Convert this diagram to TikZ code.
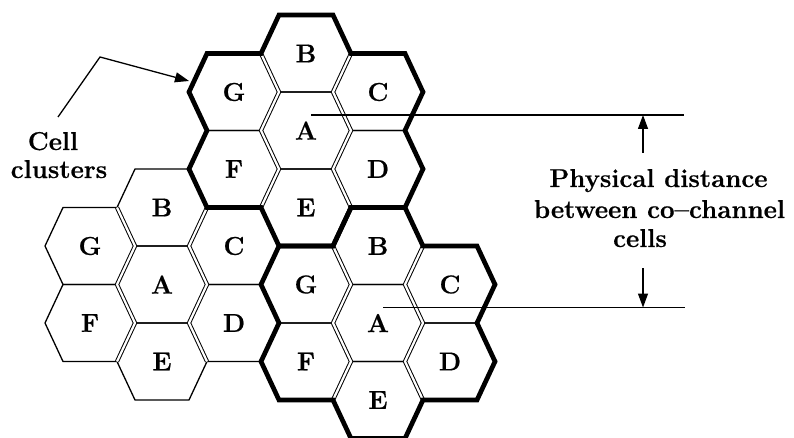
\documentclass[tikz,border=0pt]{standalone}
\usepackage{fontspec}
\newfontfamily\lmheavy{Latin Modern Roman}[FakeBold=0.6,Ligatures=TeX]
\usetikzlibrary{arrows.meta}
\begin{document}
\begin{tikzpicture}[x=1pt,y=-1pt,
  hexthin/.style={line width=1.3pt},
  chan/.style={double, line width=1.0pt, double distance=2.2pt},
  clusterline/.style={line width=4.7pt, line join=miter},
  lab/.style={font=\fontsize{25.8}{30}\selectfont\lmheavy\bfseries, inner sep=0pt},
  txt/.style={font=\fontsize{25.8}{30}\selectfont\lmheavy\bfseries, inner sep=0pt, anchor=base},
  dimline/.style={line width=1.3pt},
  arr/.style={line width=1.3pt, -{Triangle[length=14pt,width=10pt]}}]
\useasboundingbox (0,0) rectangle (794,438);
% cell centres
\coordinate (tA) at (306,130.5);
\coordinate (tB) at (306,53.5);
\coordinate (tE) at (306,207.5);
\coordinate (tG) at (234,92);
\coordinate (tF) at (234,169);
\coordinate (tC) at (378,92);
\coordinate (tD) at (378,169);
\coordinate (lA) at (162,284.5);
\coordinate (lB) at (162,207.5);
\coordinate (lE) at (162,361.5);
\coordinate (lG) at (90,246);
\coordinate (lF) at (90,323);
\coordinate (lC) at (234,246);
\coordinate (lD) at (234,323);
\coordinate (rA) at (378,323);
\coordinate (rB) at (378,246);
\coordinate (rE) at (378,400);
\coordinate (rG) at (306,284.5);
\coordinate (rF) at (306,361.5);
\coordinate (rC) at (450,284.5);
\coordinate (rD) at (450,361.5);
% thin hexagons
\foreach \c in {tA,tB,tC,tD,tE,tF,tG,lA,lB,lC,lD,lE,lF,lG,rA,rB,rC,rD,rE,rF,rG}
  \draw[hexthin,shift={(\c)}] (45,0) -- (27,38.5) -- (-27,38.5) -- (-45,0) -- (-27,-38.5) -- (27,-38.5) -- cycle;
% double channel borders
\foreach \c in {tA,lA,rA} {
  \draw[chan,shift={(\c)}] (-45,-77) -- (-27,-38.5) -- (-45,0) -- (-27,38.5) -- (-45,77);
  \draw[chan,shift={(\c)}] (45,-77) -- (27,-38.5) -- (45,0) -- (27,38.5) -- (45,77);
}
% thick cluster outlines
\foreach \c in {tA,rA}
  \draw[clusterline,shift={(\c)}] (-27,-115.5) -- (27,-115.5) -- (45,-77) -- (99,-77) -- (117,-38.5) -- (99,0)
    -- (117,38.5) -- (99,77) -- (45,77) -- (27,115.5) -- (-27,115.5) -- (-45,77) -- (-99,77)
    -- (-117,38.5) -- (-99,0) -- (-117,-38.5) -- (-99,-77) -- (-45,-77) -- cycle;
% labels
\foreach \c/\t in {tA/A,tB/B,tC/C,tD/D,tE/E,tF/F,tG/G,lA/A,lB/B,lC/C,lD/D,lE/E,lF/F,lG/G,rA/A,rB/B,rC/C,rD/D,rE/E,rF/F,rG/G}
  \node[lab] (\c-l) at (\c) {\t};
% cell clusters annotation
\node[txt] (cell) at (53,150) {Cell};
\node[txt] (clusters) at (59,178) {clusters};
\coordinate (ccstart) at (58,117);
\coordinate (ccbend) at (100,57);
\coordinate (cctip) at (189,81);
\draw[arr] (ccstart) -- (ccbend) -- (cctip);
% distance annotation
\coordinate (topL) at (311,115);
\coordinate (topR) at (684,115);
\coordinate (botL) at (383,307.5);
\coordinate (botR) at (685,307.5);
\draw[dimline] (topL) -- (topR);
\draw[dimline] (botL) -- (botR);
\node[txt] (pd1) at (658.5,187) {Physical distance};
\node[txt] (pd2) at (659.5,218) {between co–channel};
\node[txt] (pd3) at (640,247) {cells};
\coordinate (topA) at (643,153);
\coordinate (topT) at (643,115);
\coordinate (botA) at (643,268);
\coordinate (botT) at (643,307.5);
\draw[arr] (topA) -- (topT);
\draw[arr] (botA) -- (botT);
\end{tikzpicture}
\end{document}
